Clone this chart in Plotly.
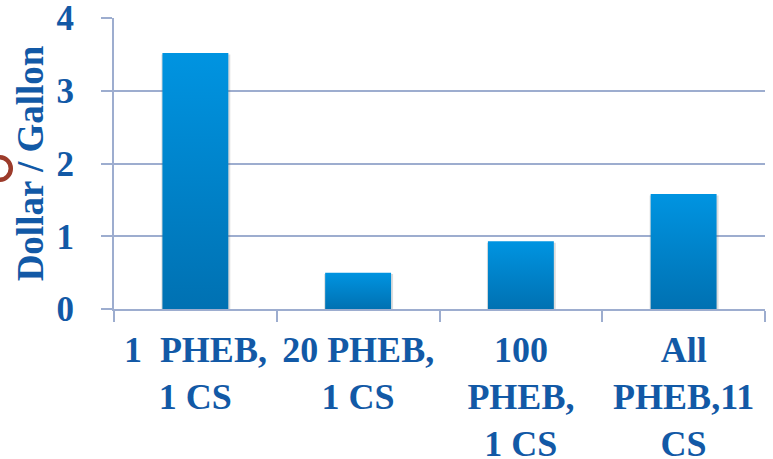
import plotly.graph_objects as go

# Cost per gallon for each charging scenario
categories = ["1  PHEB,<br>1 CS", "20 PHEB,<br>1 CS", "100<br>PHEB,<br>1 CS", "All<br>PHEB,11<br>CS"]
values = [3.52, 0.50, 0.93, 1.58]
y_ticks = [0, 1, 2, 3, 4]

TEXT = "#1259A6"
GRID = "#9DADCF"
FONT = "Liberation Serif, Times New Roman, serif"
BAR_W = 0.405

fig = go.Figure()

# soft drop shadow under each bar
for i, v in enumerate(values):
    fig.add_trace(go.Scatter(
        x=[i - BAR_W / 2 - 0.006, i - BAR_W / 2 - 0.006, i + BAR_W / 2 + 0.012, i + BAR_W / 2 + 0.012],
        y=[-0.03, v - 0.02, v - 0.02, -0.03],
        fill="toself", mode="none", fillcolor="rgba(120,120,120,0.25)",
        hoverinfo="skip", showlegend=False,
    ))

# bars with a vertical gradient fill
for i, v in enumerate(values):
    fig.add_trace(go.Scatter(
        x=[i - BAR_W / 2, i - BAR_W / 2, i + BAR_W / 2, i + BAR_W / 2, i - BAR_W / 2],
        y=[0, v, v, 0, 0],
        fill="toself", mode="none",
        fillgradient=dict(type="vertical", colorscale=[[0, "#0071B2"], [1, "#0094E1"]]),
        name=categories[i].replace("<br>", " "), showlegend=False,
    ))

# stray ring at the left edge, sized in pixels
fig.add_shape(type="circle", xref="paper", yref="paper",
              xsizemode="pixel", ysizemode="pixel",
              xanchor=-0.1759, yanchor=0.4828,
              x0=-11.3, x1=11.3, y0=-11.3, y1=11.3,
              line=dict(color="#9C3B2B", width=4.5), fillcolor="rgba(0,0,0,0)", layer="above")

fig.update_layout(
    width=773, height=459,
    margin=dict(l=114, r=8, t=18, b=150),
    paper_bgcolor="white", plot_bgcolor="white",
    font=dict(family=FONT, color=TEXT),
    xaxis=dict(
        range=[-0.5, 3.5], tickmode="array", tickvals=list(range(len(categories))),
        ticktext=categories, ticks="", showgrid=False, zeroline=False,
        tickfont=dict(size=36, family=FONT, color=TEXT, weight="bold"),
        ticklabelstandoff=8, automargin=False, ticklabeloverflow="allow",
        showline=True, linecolor=GRID, linewidth=2,
        minor=dict(tickmode="array", tickvals=[-0.5, 0.5, 1.5, 2.5, 3.5],
                   ticks="outside", ticklen=11, tickwidth=2, tickcolor=GRID, showgrid=False),
    ),
    yaxis=dict(
        range=[0, 4], tickmode="array", tickvals=y_ticks,
        ticks="outside", ticklen=11, tickwidth=2, tickcolor=GRID,
        showgrid=True, gridcolor=GRID, gridwidth=2, zeroline=False,
        showline=True, linecolor=GRID, linewidth=2, automargin=False,
        ticklabeloverflow="allow",
        tickfont=dict(size=35, family=FONT, color=TEXT, weight="bold"),
        ticklabelstandoff=20,
        title=dict(text="Dollar / Gallon", standoff=2,
                   font=dict(size=37, family=FONT, color=TEXT, weight="bold")),
    ),
)

fig.write_html("out.html")
